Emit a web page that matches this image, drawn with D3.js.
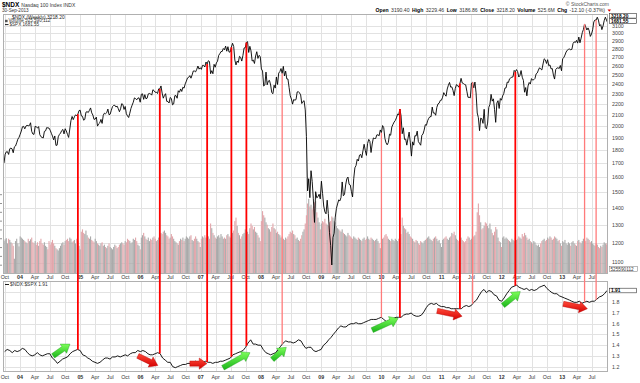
<!DOCTYPE html>
<html><head><meta charset="utf-8">
<script src="https://cdn.jsdelivr.net/npm/d3@7"></script>
<style>body{margin:0;background:#fff}svg{display:block}text{font-family:"Liberation Sans",Arial,sans-serif}</style>
</head><body><svg id="c" width="640" height="383"></svg>
<script>
// ---------- DATA ----------
const yearStarts = ["2003-09-26","2004-01-02","2005-01-07","2006-01-06","2007-01-05","2008-01-04","2009-01-02","2010-01-01","2011-01-07","2012-01-06","2013-01-04"];
const spx2003 = [996.85,1029.85,1038.73,1039.32,1028.91,1050.71,1053.21,1050.35,1035.28,1058.20,1061.50,1074.14,1088.66,1095.89];
const spx2004 = [1108.48,1121.86,1139.83,1141.55,1131.13,1142.76,1145.81,1144.11,1144.94,1156.86,1120.57,1109.78,1108.06,1141.81,1139.32,1134.61,1140.60,1107.30,1098.70,1095.70,1093.56,1120.68,1122.50,1136.47,1135.02,1134.43,1125.38,1112.81,1101.39,1086.20,1101.72,1063.97,1064.80,1098.35,1107.77,1113.63,1123.92,1128.55,1110.11,1131.50,1122.14,1108.20,1095.74,1130.20,1166.17,1184.17,1170.34,1182.65,1191.17,1188.00,1194.20,1210.13,1211.92];
const spx2005 = [1186.19,1184.52,1167.87,1171.36,1203.03,1205.30,1201.59,1211.37,1222.12,1200.08,1190.21,1171.42,1172.92,1181.20,1142.62,1152.12,1156.85,1171.35,1154.05,1189.28,1198.78,1196.02,1200.93,1216.96,1191.57,1194.44,1211.86,1227.92,1233.68,1234.18,1226.42,1230.39,1219.02,1205.10,1218.02,1241.48,1237.91,1215.29,1228.81,1195.90,1186.57,1179.59,1198.41,1220.14,1234.72,1248.27,1268.25,1265.08,1259.37,1267.32,1268.66,1248.29];
const spx2006 = [1285.45,1287.61,1261.49,1283.72,1264.03,1266.99,1287.24,1289.43,1287.23,1281.42,1307.25,1302.95,1294.83,1295.50,1289.12,1311.28,1310.61,1325.76,1291.24,1267.03,1280.16,1288.22,1252.30,1251.54,1244.50,1270.20,1265.48,1236.20,1240.29,1278.55,1279.36,1266.74,1302.30,1295.09,1311.01,1298.92,1319.66,1314.78,1335.85,1349.59,1365.62,1368.60,1377.34,1364.30,1380.90,1401.20,1400.95,1396.71,1409.84,1427.09,1410.76,1418.30];
const spx2007 = [1409.71,1430.73,1430.50,1422.18,1448.39,1438.06,1455.54,1451.19,1387.17,1402.84,1386.95,1436.11,1420.86,1443.76,1452.85,1484.35,1494.07,1505.62,1505.85,1522.75,1515.73,1536.34,1507.67,1532.91,1502.56,1503.35,1530.44,1552.50,1534.10,1458.95,1433.06,1453.64,1445.94,1479.37,1473.99,1453.55,1484.25,1525.75,1526.75,1557.59,1561.80,1500.63,1535.28,1509.65,1453.70,1458.74,1440.70,1481.14,1504.66,1467.95,1484.46,1478.49];
const spx2008 = [1411.63,1401.02,1325.19,1330.61,1395.42,1331.29,1349.99,1353.11,1330.63,1293.37,1288.14,1329.51,1315.22,1370.40,1332.83,1390.33,1397.84,1413.90,1388.28,1425.35,1375.93,1400.38,1360.68,1360.03,1317.93,1278.38,1262.90,1239.49,1260.68,1257.76,1260.31,1296.32,1298.20,1292.20,1282.83,1242.31,1251.70,1255.08,1213.27,1099.23,899.22,940.55,876.77,968.75,930.99,873.29,800.03,896.24,876.07,879.73,887.88,872.80];
const spx2009 = [931.80,890.35,850.12,831.95,825.88,868.60,826.84,770.05,735.09,683.38,756.55,768.54,815.94,842.50,856.56,869.60,866.23,877.52,929.23,882.88,887.00,919.14,940.09,946.21,921.23,918.90,896.42,879.13,940.38,979.26,987.48,1010.48,1004.09,1026.13,1028.93,1016.40,1042.73,1068.30,1044.38,1025.21,1071.49,1087.68,1079.60,1036.19,1069.30,1093.48,1091.38,1091.49,1105.98,1106.41,1102.47,1126.48];
const spx2010 = [1115.10,1144.98,1136.03,1091.76,1073.87,1066.19,1075.51,1109.17,1104.49,1138.70,1149.99,1159.90,1166.59,1178.10,1194.37,1192.13,1217.28,1186.69,1110.88,1135.68,1087.69,1089.41,1064.88,1091.60,1117.51,1076.76,1022.58,1077.96,1064.88,1102.66,1101.60,1121.64,1079.25,1071.69,1064.59,1104.51,1109.55,1125.59,1148.67,1146.24,1165.15,1176.19,1183.08,1183.26,1225.85,1199.21,1199.73,1189.40,1224.71,1240.40,1243.91,1256.77,1257.64];
const spx2011 = [1271.50,1293.24,1283.35,1276.34,1310.87,1329.15,1343.01,1319.88,1321.15,1304.28,1279.21,1313.80,1332.41,1328.17,1319.68,1337.38,1363.61,1340.20,1337.77,1333.27,1331.10,1300.16,1270.98,1271.50,1268.45,1339.67,1343.80,1316.14,1345.02,1292.28,1199.38,1178.81,1123.53,1176.80,1173.97,1154.23,1216.01,1136.43,1131.42,1155.46,1224.58,1238.25,1285.09,1253.23,1263.85,1215.65,1158.67,1244.28,1255.19,1219.66,1265.33,1257.60];
const spx2012 = [1277.81,1289.09,1315.38,1316.33,1344.90,1342.64,1361.23,1365.74,1369.63,1370.87,1404.17,1397.11,1408.47,1398.08,1370.26,1378.53,1403.36,1369.10,1353.39,1295.22,1317.82,1278.04,1325.66,1342.84,1335.02,1362.16,1354.68,1356.78,1362.66,1385.97,1390.99,1405.87,1418.16,1411.13,1406.58,1437.92,1465.77,1460.15,1440.67,1460.93,1428.59,1433.19,1411.94,1414.20,1379.85,1359.88,1409.15,1416.18,1418.07,1413.58,1430.15,1402.43];
const spx2013 = [1466.47,1472.05,1485.98,1502.96,1513.17,1517.93,1519.79,1515.60,1518.20,1551.18,1560.70,1556.89,1569.19,1553.28,1588.85,1555.25,1582.24,1614.42,1633.70,1667.47,1649.60,1630.74,1643.38,1626.73,1592.43,1606.28,1631.89,1680.19,1692.09,1691.65,1709.67,1691.42,1655.83,1663.50,1632.97,1655.17,1687.99,1709.91,1691.75];
const lastWeekDate = "2013-09-30", lastWeekSpx = 1681.55, lastWeekVol = 525.59;

// weekly volume, millions of shares
const vol2003 = [560,590,610,520,600,580,540,520,480,260,560,600,520,470];
const vol2004 = [640,620,600,580,560,540,520,600,560,590, 620,540,520,560,500,540,480,560,600,520, 500,540,480,460,420,560,500,540,580,520, 480,440,420,400,440,480,520,540,500,560, 580,600,560,620,600,540,560,580,520,600, 560,480,420];
const vol2005 = [720,760,700,680,740,660,620,600,640,580, 560,540,600,560,520,500,480,520,540,480, 500,460,440,480,520,460,440,420,460,500, 480,440,460,500,520,540,520,500,560,540, 600,580,560,520,540,600,580,620,560,500, 480,420];
const vol2006 = [620,660,700,640,600,580,620,560,600,580, 620,640,600,560,580,620,660,700,680,720, 740,700,660,640,600,620,680,640,600,560, 540,520,500,560,600,580,620,560,600,640, 620,600,640,660,580,560,600,640,600,560, 540,460];
const vol2007 = [600,640,620,660,620,600,640,600,860,780, 700,660,620,600,640,660,620,680,640,600, 620,600,660,680,640,620,660,700,740,900, 960,820,700,660,600,640,680,700,760,740, 720,680,780,860,820,760,800,720,700,660, 620,560];
const vol2008 = [900,1070,1000,960,880,840,780,760,720,800, 860,780,760,700,720,680,660,620,640,600, 580,620,600,640,680,720,700,740,680,660, 600,620,580,560,600,660,720,760,860,1000, 1200,1280,1150,1180,1100,1150,1220,1240,1050,960, 880,760];
const vol2009 = [860,900,880,940,860,840,820,880,900,980, 960,900,880,820,780,760,740,720,760,700, 680,660,640,700,660,640,620,600,640,620, 600,580,620,600,580,560,600,620,580,600, 640,600,580,620,600,580,560,580,600,560, 520,440];
const vol2010 = [540,600,620,660,680,640,600,580,560,600, 580,560,600,580,560,600,620,680,960,820, 780,760,700,720,680,640,620,600,560,540, 580,560,520,500,560,540,520,560,580,600, 620,640,600,580,560,600,620,640,600,560, 580,520,460];
const vol2011 = [580,600,620,640,600,580,620,640,700,680, 720,660,600,580,560,600,620,580,560,540, 560,600,640,620,580,600,620,640,660,720, 1050,1200,1000,880,760,780,820,880,860,820, 780,860,760,700,660,720,800,760,620,560, 540,460];
const vol2012 = [620,640,600,620,600,580,560,540,600,580, 560,620,580,600,640,620,600,680,640,700, 660,620,580,600,560,540,520,560,540,500, 480,500,460,520,560,580,600,560,580,620, 600,640,620,580,600,640,620,600,560,580, 520,480];
const vol2013 = [560,540,580,520,500,540,520,480,540,560, 520,500,480,560,580,540,520,560,600,580, 560,620,600,580,540,560,520,500,480,520, 500,460,440,480,460,500,540,520,500];

// $NDX:$SPX ratio, twice a month (15th and month end) from 30 Sep 2003
const ratioStart = "2003-09-30";
const ratio2003 = [1.34, 1.36,1.35, 1.33,1.35, 1.34,1.35];
const ratio2004 = [1.37,1.36, 1.33,1.31, 1.30,1.31, 1.33,1.31, 1.30,1.31, 1.32,1.32, 1.28,1.26, 1.23,1.25, 1.27,1.28, 1.29,1.32, 1.34,1.35, 1.36,1.35];
const ratio2005 = [1.31,1.30, 1.28,1.27, 1.25,1.24, 1.23,1.24, 1.26,1.28, 1.28,1.27, 1.29,1.29, 1.30,1.29, 1.30,1.31, 1.30,1.32, 1.33,1.33, 1.35,1.34];
const ratio2006 = [1.35,1.34, 1.32,1.31, 1.31,1.32, 1.33,1.32, 1.28,1.26, 1.24,1.24, 1.20,1.19, 1.20,1.21, 1.22,1.22, 1.23,1.23, 1.24,1.25, 1.24,1.24];
const ratio2007 = [1.24,1.25, 1.24,1.24, 1.23,1.24, 1.24,1.25, 1.25,1.26, 1.27,1.28, 1.31,1.32, 1.33,1.34, 1.35,1.38, 1.42,1.45, 1.41,1.41, 1.40,1.40];
const ratio2008 = [1.36,1.33, 1.32,1.31, 1.32,1.33, 1.36,1.39, 1.42,1.44, 1.43,1.43, 1.42,1.43, 1.45,1.44, 1.40,1.37, 1.38,1.38, 1.35,1.34, 1.35,1.36];
const ratio2009 = [1.40,1.42, 1.45,1.47, 1.50,1.53, 1.56,1.58, 1.57,1.57, 1.59,1.60, 1.60,1.61, 1.60,1.60, 1.61,1.62, 1.63,1.64, 1.64,1.64, 1.65,1.66];
const ratio2010 = [1.64,1.62, 1.63,1.645, 1.65,1.66, 1.66,1.66, 1.68,1.69, 1.69,1.70, 1.68,1.67, 1.67,1.68, 1.71,1.75, 1.78,1.79, 1.78,1.79, 1.77,1.76];
const ratio2011 = [1.76,1.75, 1.75,1.74, 1.74,1.74, 1.74,1.74, 1.76,1.77, 1.76,1.77, 1.80,1.82, 1.86,1.90, 1.92,1.89, 1.91,1.90, 1.87,1.86, 1.82,1.81];
const ratio2012 = [1.84,1.88, 1.91,1.94, 1.95,1.96, 1.94,1.93, 1.92,1.93, 1.91,1.92, 1.91,1.92, 1.94,1.95, 1.96,1.93, 1.91,1.89, 1.88,1.88, 1.86,1.85];
const ratio2013 = [1.84,1.83, 1.82,1.81, 1.80,1.80, 1.81,1.79, 1.80,1.81, 1.80,1.81, 1.81,1.83, 1.85,1.86, 1.88,1.91];

const ndxTicks = [1100,1200,1300,1400,1500,1600,1700,1800,1900,2000,2100,2200,2300,2400,2500,2600,2700,2800,2900,3000,3100];
const ratioTicks = [1.2,1.3,1.4,1.5,1.6,1.7,1.8];
const volTicks = [150,300,450,600,750,900,1050,1200,1350];
const ndxLast = 3218.20, spxLast = 1681.55, ratioLast = 1.91;

// annotations
const markerDates = ["2004-12-17","2006-04-28","2007-02-09","2007-07-06","2007-10-05","2008-05-09","2010-01-01","2010-04-23","2011-04-22","2011-07-08","2012-03-23","2013-05-17","2013-07-26"];
const markerKind = ["main","main","main","main","main","faint","faint","main","main","faint","main","faint","faint"];
const arrowFrom = ["2004-07-20","2005-12-16","2006-10-27","2007-05-16","2008-03-10","2009-11-06","2010-12-05","2012-01-08","2013-01-08"];
const arrowFromVal = [1.30,1.30,1.228,1.19,1.266,1.54,1.72,1.77,1.785];
const arrowTo = ["2004-10-30","2006-04-16","2007-02-08","2007-10-27","2008-06-03","2010-04-12","2011-05-05","2012-04-22","2013-06-03"];
const arrowToVal = [1.41,1.21,1.228,1.33,1.38,1.65,1.67,1.90,1.74];
const arrowKind = ["up","down","down","up","up","up","down","up","down"];

// ---------- BUILD ----------
const parse = d3.timeParse("%Y-%m-%d");
const spxYears = [spx2003,spx2004,spx2005,spx2006,spx2007,spx2008,spx2009,spx2010,spx2011,spx2012,spx2013];
const volYears = [vol2003,vol2004,vol2005,vol2006,vol2007,vol2008,vol2009,vol2010,vol2011,vol2012,vol2013];
const weeks = [];
yearStarts.forEach((s,i)=>{const d0=parse(s);spxYears[i].forEach((v,j)=>weeks.push({date:d3.timeDay.offset(d0,7*j),spx:v,vol:volYears[i][j]}));});
weeks.push({date:parse(lastWeekDate),spx:lastWeekSpx,vol:lastWeekVol});
weeks.forEach((w,i)=>{w.down = i>0 && w.spx<weeks[i-1].spx;});
const ratioVals = [].concat(ratio2003,ratio2004,ratio2005,ratio2006,ratio2007,ratio2008,ratio2009,ratio2010,ratio2011,ratio2012,ratio2013);
const m0 = parse("2003-10-01");
const ratio = ratioVals.map((v,i)=>{
  let d;
  if(i===0) d=parse(ratioStart);
  else { const m=Math.floor((i-1)/2); d = (i%2===1) ? d3.timeDay.offset(d3.timeMonth.offset(m0,m),14) : d3.timeDay.offset(d3.timeMonth.offset(m0,m+1),-1); }
  return {date:d,v};
});

const L=3,R=608,T1=14,B1=274,T2=281,B2=372;
const x = d3.scaleTime().domain([weeks[0].date, weeks[weeks.length-1].date]).range([4,607]);
const yNdx = d3.scaleLog().domain([3100,1100]).range([25.7,263.3]);
const ySpx = d3.scaleLog().domain([1681.55,683.38]).range([21.7,265]);
const yVol = d3.scaleLinear().domain([0,1600]).range([B1,180]);
const yRat = d3.scaleLinear().domain([1.2,1.8]).range([366.6,302.3]);

const svg = d3.select("#c");
const defs = svg.append("defs");
defs.append("clipPath").attr("id","cp1").append("rect").attr("x",L).attr("y",T1).attr("width",R-L).attr("height",B1-T1);
defs.append("clipPath").attr("id","cp2").append("rect").attr("x",L).attr("y",T2).attr("width",R-L).attr("height",B2-T2);
const gg = defs.append("linearGradient").attr("id","gGreen").attr("x1",0).attr("y1",0).attr("x2",0).attr("y2",1);
gg.append("stop").attr("offset","0").attr("stop-color","#7dff5a");
gg.append("stop").attr("offset","1").attr("stop-color","#19b419");
const gr = defs.append("linearGradient").attr("id","gRed").attr("x1",0).attr("y1",0).attr("x2",0).attr("y2",1);
gr.append("stop").attr("offset","0").attr("stop-color","#ff4a3a");
gr.append("stop").attr("offset","1").attr("stop-color","#d40000");

const qTicks = x.ticks(d3.timeMonth.every(3));
const gridC="#e2e2e2";
const g1 = svg.append("g");
g1.selectAll("line.v").data(qTicks).join("line").attr("x1",d=>Math.round(x(d))+.5).attr("x2",d=>Math.round(x(d))+.5).attr("y1",T1).attr("y2",B1).attr("stroke",gridC);
g1.selectAll("line.h").data(ndxTicks).join("line").attr("x1",L).attr("x2",R).attr("y1",d=>Math.round(yNdx(d))+.5).attr("y2",d=>Math.round(yNdx(d))+.5).attr("stroke",gridC);
const g2 = svg.append("g");
g2.selectAll("line.v").data(qTicks).join("line").attr("x1",d=>Math.round(x(d))+.5).attr("x2",d=>Math.round(x(d))+.5).attr("y1",T2).attr("y2",B2).attr("stroke",gridC);
g2.selectAll("line.h").data(ratioTicks.concat([1.9])).join("line").attr("x1",L).attr("x2",R).attr("y1",d=>Math.round(yRat(d))+.5).attr("y2",d=>Math.round(yRat(d))+.5).attr("stroke",gridC);

// volume
svg.append("g").attr("clip-path","url(#cp1)").selectAll("rect").data(weeks).join("rect")
  .attr("x",d=>x(d.date)-0.55).attr("width",1.1)
  .attr("y",d=>yVol(d.vol)).attr("height",d=>B1-yVol(d.vol))
  .attr("fill",d=>d.down?"#e2a6ab":"#aaaaaa");

// price line
svg.append("path").datum(weeks).attr("clip-path","url(#cp1)")
  .attr("d",d3.line().x(d=>x(d.date)).y(d=>ySpx(d.spx)))
  .attr("fill","none").attr("stroke","#000").attr("stroke-width",0.9);

// ratio line
svg.append("path").datum(ratio).attr("clip-path","url(#cp2)")
  .attr("d",d3.line().x(d=>x(d.date)).y(d=>yRat(d.v)))
  .attr("fill","none").attr("stroke","#000").attr("stroke-width",0.9);

// panel borders
svg.append("rect").attr("x",L+.5).attr("y",T1+.5).attr("width",R-L-1).attr("height",B1-T1-1).attr("fill","none").attr("stroke","#b0b0b0");
svg.append("rect").attr("x",L+.5).attr("y",T2+.5).attr("width",R-L-1).attr("height",B2-T2-1).attr("fill","none").attr("stroke","#b0b0b0");

// x labels
function xlabels(y){
  svg.append("g").selectAll("text").data(qTicks).join("text").attr("x",d=>x(d)).attr("y",y).attr("text-anchor","middle")
   .attr("font-size",5.3).attr("fill","#333").attr("font-weight",d=>d.getMonth()===0?"bold":"normal")
   .text(d=>d.getMonth()===0?d3.timeFormat("%y")(d):d3.timeFormat("%b")(d));
}
xlabels(279.3); xlabels(378.8);

// right labels
svg.append("g").selectAll("text").data(ndxTicks.filter(d=>d<3150 && d>1100)).join("text").attr("x",612).attr("y",d=>yNdx(d)+1.9).attr("font-size",5.3).attr("fill","#444").text(d=>d);
svg.append("text").attr("x",612).attr("y",yNdx(1100)+0.3).attr("font-size",5.3).attr("fill","#444").text(1100);
svg.append("g").selectAll("text").data(ratioTicks).join("text").attr("x",612).attr("y",d=>yRat(d)+1.9).attr("font-size",5.3).attr("fill","#444").text(d=>d.toFixed(1));
// volume scale marks at the left edge (labels fall outside the picture)
svg.append("g").selectAll("line").data(volTicks).join("line").attr("x1",0).attr("x2",2).attr("y1",d=>yVol(d)).attr("y2",d=>yVol(d)).attr("stroke","#777").attr("stroke-width",0.8);

// annotation: red vertical markers
const bis = d3.bisector(d=>d.date).left;
function interp(arr,key,dt){
  const i=bis(arr,dt); if(i<=0) return arr[0][key]; if(i>=arr.length) return arr[arr.length-1][key];
  const a=arr[i-1], b=arr[i], t=(dt-a.date)/(b.date-a.date); return a[key]+(b[key]-a[key])*t;
}
const markers = markerDates.map((s,i)=>({date:parse(s),kind:markerKind[i]}));
svg.append("g").selectAll("line").data(markers).join("line")
  .attr("x1",d=>x(d.date)).attr("x2",d=>x(d.date))
  .attr("y1",d=>ySpx(interp(weeks,"spx",d.date)))
  .attr("y2",d=>yRat(interp(ratio,"v",d.date)))
  .attr("stroke",d=>d.kind==="main"?"#ff0000":"#ff7b7b").attr("stroke-width",d=>d.kind==="main"?1.8:1.3);

// arrows
const arrows = arrowFrom.map((s,i)=>({x1:x(parse(s)),y1:yRat(arrowFromVal[i]),x2:x(parse(arrowTo[i])),y2:yRat(arrowToVal[i]),kind:arrowKind[i]}));
svg.append("g").selectAll("path").data(arrows).join("path")
  .attr("d",a=>{
    const dx=a.x2-a.x1, dy=a.y2-a.y1, len=Math.hypot(dx,dy), ux=dx/len, uy=dy/len, px=-uy, py=ux;
    const hw=2.6, hh=5.6, hl=Math.min(8,len*0.45);
    const bx=a.x2-ux*hl, by=a.y2-uy*hl;
    const p=[[a.x1+px*hw,a.y1+py*hw],[bx+px*hw,by+py*hw],[bx+px*hh,by+py*hh],[a.x2,a.y2],[bx-px*hh,by-py*hh],[bx-px*hw,by-py*hw],[a.x1-px*hw,a.y1-py*hw]];
    return "M"+p.map(q=>q.join(",")).join("L")+"Z";
  })
  .attr("fill",a=>a.kind==="up"?"url(#gGreen)":"url(#gRed)")
  .attr("stroke",a=>a.kind==="up"?"#1a9a1a":"#b00000").attr("stroke-width",0.4);

// value boxes at right
function box(yc, txt){
  const g=svg.append("g");
  g.append("rect").attr("x",609.5).attr("y",yc-2.3).attr("width",27).attr("height",4.6).attr("fill","#fff").attr("stroke","#333").attr("stroke-width",0.6);
  g.append("text").attr("x",611).attr("y",yc+1.7).attr("font-size",4.8).attr("font-weight","bold").attr("fill","#000").text(txt);
}
const ySpxBox = ySpx(spxLast)-0.7, yNdxBox = Math.min(yNdx(ndxLast), ySpxBox-5.2);
box(yNdxBox, ndxLast.toFixed(2));
box(ySpxBox, spxLast.toFixed(2));
box(yRat(ratioLast), ratioLast.toFixed(2));
{
  const g=svg.append("g");
  g.append("rect").attr("x",609.5).attr("y",266.6).attr("width",28).attr("height",5).attr("fill","#fff").attr("stroke","#777").attr("stroke-width",0.5);
  g.append("text").attr("x",610.5).attr("y",270.7).attr("font-size",4.7).attr("fill","#333").text("525590112");
}

// header
const hdr = svg.append("text").attr("x",2).attr("y",6.5).attr("font-size",5);
hdr.append("tspan").attr("font-weight","bold").attr("font-size",6.5).text("$NDX");
hdr.append("tspan").attr("dx",2).attr("fill","#333").text("Nasdaq 100 Index  INDX");
svg.append("text").attr("x",2).attr("y",12.4).attr("font-size",4.6).attr("fill","#333").text("30-Sep-2013");
svg.append("text").attr("x",609).attr("y",5.5).attr("text-anchor","end").attr("font-size",5).attr("fill","#555").text("© StockCharts.com");
const stat = svg.append("text").attr("x",605).attr("y",12).attr("text-anchor","end").attr("font-size",5.1).attr("fill","#333");
[["Open","3190.40"],["High","3229.46"],["Low","3186.86"],["Close","3218.20"],["Volume","525.6M"],["Chg","-12.10 (-0.37%)"]].forEach((p,i)=>{
  stat.append("tspan").attr("font-weight","bold").attr("fill","#000").attr("dx",i?2.5:0).text(p[0]);
  stat.append("tspan").attr("dx",1).text(" "+p[1]);
});
svg.append("path").attr("d","M607.5,9.5 L611,9.5 L609.25,11.8Z").attr("fill","#d00");

// legends
const mono = '"DejaVu Sans Mono","Liberation Mono",monospace';
svg.append("text").attr("x",12).attr("y",18.6).attr("font-size",4.9).attr("font-family",mono).attr("fill","#222").text("$NDX (Weekly) 3218.20");
svg.append("rect").attr("x",5).attr("y",19.8).attr("width",2.6).attr("height",2.4).attr("fill","#555");
svg.append("text").attr("x",8.5).attr("y",22.2).attr("font-size",4.6).attr("fill","#333").text("Volume 525,590,112");
svg.append("line").attr("x1",5).attr("x2",8.5).attr("y1",24.6).attr("y2",24.6).attr("stroke","#000").attr("stroke-width",0.9);
svg.append("text").attr("x",9.5).attr("y",26.3).attr("font-size",4.6).attr("font-family",mono).attr("fill","#333").text("$SPX  1681.55");
svg.append("line").attr("x1",5).attr("x2",9).attr("y1",284.5).attr("y2",284.5).attr("stroke","#000").attr("stroke-width",0.9);
svg.append("text").attr("x",10).attr("y",286.3).attr("font-size",4.9).attr("font-family",mono).attr("fill","#333").text("$NDX:$SPX 1.91");
</script></body></html>
